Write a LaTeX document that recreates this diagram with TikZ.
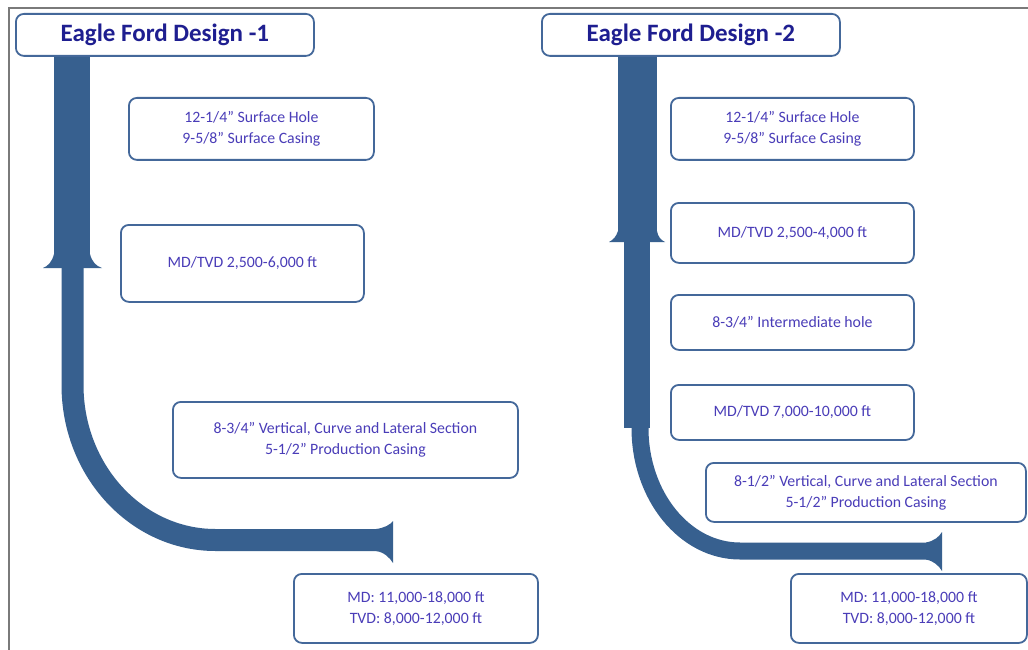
\documentclass[tikz,border=0pt]{standalone}
\usepackage{fontspec}
\setmainfont{Carlito}
\definecolor{pipe}{HTML}{37608F}
\definecolor{boxline}{HTML}{44689A}
\definecolor{labeltext}{HTML}{4A3DB8}
\definecolor{titletext}{HTML}{1E1E90}
\definecolor{framegray}{HTML}{7A7A7A}
\tikzset{
  infobox/.style={draw=boxline, line width=1.8pt, rounded corners=8pt, fill=white,
    anchor=north west, inner sep=0pt, align=center, text=labeltext,
    font=\fontsize{15.8}{21}\selectfont},
  titlebox/.style={infobox, text=titletext, font=\bfseries\fontsize{25}{28}\selectfont},
  pipefill/.style={fill=pipe, draw=none},
  pipestroke/.style={draw=pipe, line cap=butt, line join=round}
}
\begin{document}
\begin{tikzpicture}[x=1pt, y=-1pt]
\useasboundingbox (0,0) rectangle (1028,650);
\fill[white] (0,0) rectangle (1028,650);
% frame
\draw[framegray, line width=2pt] (1028,8) -- (9,8) -- (9,650);

% ---------- Design 1 pipe ----------
\fill[pipefill] (54,50) rectangle (90,255);
\fill[pipefill] (54,254) .. controls (52,262) and (48,266) .. (43,268) -- (102,268)
   .. controls (96,266) and (92,262) .. (90,254) -- cycle;
\draw[pipestroke, line width=22pt] (72.5,267) -- (72.5,385)
   arc[start angle=180, end angle=270, x radius=143pt, y radius=155pt] -- (382,540);
\fill[pipefill] (376,529) .. controls (384,528) and (390,525) .. (393,521) -- (393,563)
   .. controls (390,558) and (384,552) .. (376,551) -- cycle;

% ---------- Design 2 pipe ----------
\fill[pipefill] (618,50) rectangle (657,232);
\fill[pipefill] (618,231) .. controls (616,237) and (613,240) .. (609,242) -- (665,242)
   .. controls (661,240) and (658,237) .. (657,231) -- cycle;
\fill[pipefill] (624,241) rectangle (650,428);
\draw[pipestroke, line width=17pt] (640,427) -- (640,428)
   arc[start angle=180, end angle=270, x radius=100pt, y radius=123pt] -- (930,551);
\fill[pipefill] (926,542.5) .. controls (934,541) and (939,537) .. (942,532) -- (942,571)
   .. controls (939,566) and (934,561) .. (926,559.5) -- cycle;

% ---------- Design 1 boxes ----------
\node[titlebox, minimum width=298pt, minimum height=42pt] (t1) at (15,13) {Eagle Ford Design -1};
\node[infobox, minimum width=245pt, minimum height=62pt] (a1) at (128,97)
  {12-1/4” Surface Hole\\9-5/8” Surface Casing};
\node[infobox, minimum width=243pt, minimum height=77pt] (b1) at (120,224)
  {MD/TVD 2,500-6,000 ft};
\node[infobox, minimum width=345pt, minimum height=76pt] (c1) at (172,401)
  {8-3/4” Vertical, Curve and Lateral Section\\5-1/2” Production Casing};
\node[infobox, minimum width=244pt, minimum height=69pt] (d1) at (293,573)
  {MD: 11,000-18,000 ft\\TVD: 8,000-12,000 ft};

% ---------- Design 2 boxes ----------
\node[titlebox, minimum width=298pt, minimum height=42pt] (t2) at (541,13) {Eagle Ford Design -2};
\node[infobox, minimum width=243pt, minimum height=62pt] (a2) at (670,97)
  {12-1/4” Surface Hole\\9-5/8” Surface Casing};
\node[infobox, minimum width=243pt, minimum height=60pt] (b2) at (670,202)
  {MD/TVD 2,500-4,000 ft};
\node[infobox, minimum width=243pt, minimum height=55pt] (c2) at (670,294)
  {8-3/4” Intermediate hole};
\node[infobox, minimum width=243pt, minimum height=55pt] (d2) at (670,384)
  {MD/TVD 7,000-10,000 ft};
\node[infobox, minimum width=320pt, minimum height=59pt] (e2) at (705,462)
  {8-1/2” Vertical, Curve and Lateral Section\\5-1/2” Production Casing};
\node[infobox, minimum width=236pt, minimum height=69pt] (f2) at (790,573)
  {MD: 11,000-18,000 ft\\TVD: 8,000-12,000 ft};
\end{tikzpicture}
\end{document}
